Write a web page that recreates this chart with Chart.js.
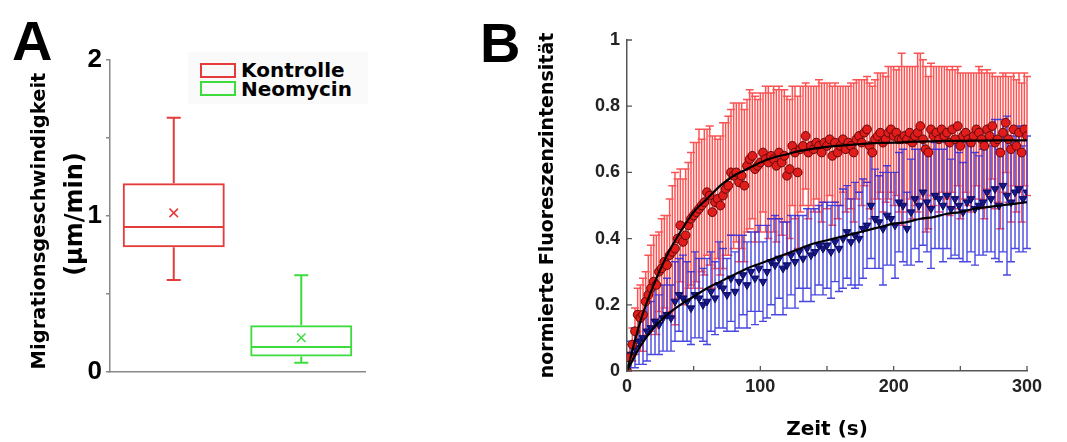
<!DOCTYPE html>
<html><head><meta charset="utf-8">
<script src="https://cdn.jsdelivr.net/npm/chart.js@4.4.1/dist/chart.umd.min.js"></script>
<style>
html,body{margin:0;padding:0;background:#fff;}
body{width:1067px;height:442px;overflow:hidden;position:relative;font-family:"Liberation Sans",Arial,sans-serif;}
#ca{position:absolute;left:0;top:0;}
#cb{position:absolute;left:530px;top:0;}
.lbl{position:absolute;font-family:"Liberation Sans",Arial,sans-serif;font-weight:bold;font-size:56px;line-height:56px;color:#000;}
.rot{position:absolute;white-space:nowrap;transform:translate(-50%,-50%) rotate(-90deg);font-family:"DejaVu Sans",sans-serif;font-weight:bold;color:#000;line-height:1;}
.legbg{position:absolute;left:188px;top:52px;width:180px;height:52px;background:#fafafa;}
.legbox{position:absolute;left:200px;width:32px;height:11px;border:2px solid;}
.legtxt{position:absolute;left:241px;font-family:"DejaVu Sans",sans-serif;font-weight:bold;font-size:20px;line-height:20px;color:#000;white-space:nowrap;}
</style></head>
<body>
<canvas id="ca" width="380" height="442"></canvas>
<canvas id="cb" width="537" height="442"></canvas>
<div class="lbl" style="left:12px;top:13px;">A</div>
<div class="lbl" style="left:480px;top:15px;">B</div>
<div class="rot" style="left:39px;top:221px;font-size:19.5px;">Migrationsgeschwindigkeit</div>
<div class="rot" style="left:74px;top:214px;font-size:24px;">(µm/min)</div>
<div class="legbg"></div>
<div class="legbox" style="top:63px;border-color:#e53b3b;"></div>
<div class="legbox" style="top:81px;border-color:#3ddc3d;"></div>
<div class="legtxt" style="top:60px;">Kontrolle</div>
<div class="legtxt" style="top:79px;">Neomycin</div>
<script>
// ---------- Panel A data (box plot) ----------
const boxCategories = ['Kontrolle', 'Neomycin'];
const boxQ1 = [0.80, 0.10];
const boxQ3 = [1.21, 0.30];
const boxMedian = [0.93, 0.16];
const boxWhiskerLow = [0.59, 0.06];
const boxWhiskerHigh = [1.63, 0.62];
const boxMean = [1.02, 0.22];
const boxColors = ['#e53b3b', '#3ddc3d'];
const yTicksA = [0, 1, 2];

// ---------- Panel B data ----------
const redStep = 2;
const redY = [
0.00,0.04,0.08,0.12,0.17,0.16,0.17,0.21,0.23,0.25,
0.27,0.26,0.30,0.31,0.33,0.32,0.35,0.36,0.37,0.40,
0.44,0.39,0.41,0.44,0.46,0.47,0.48,0.49,0.50,0.51,
0.54,0.53,0.48,0.51,0.52,0.50,0.53,0.55,0.56,0.60,
0.59,0.60,0.57,0.59,0.56,0.62,0.64,0.65,0.61,0.62,
0.63,0.66,0.64,0.63,0.65,0.64,0.62,0.66,0.63,0.65,
0.59,0.61,0.68,0.66,0.60,0.67,0.68,0.71,0.66,0.68,
0.67,0.69,0.68,0.66,0.69,0.68,0.70,0.65,0.69,0.66,
0.68,0.70,0.67,0.69,0.68,0.66,0.70,0.71,0.69,0.72,
0.73,0.68,0.66,0.70,0.71,0.72,0.69,0.70,0.72,0.73,
0.71,0.72,0.70,0.70,0.71,0.70,0.72,0.69,0.71,0.72,
0.74,0.70,0.67,0.66,0.73,0.71,0.72,0.70,0.73,0.71,
0.72,0.69,0.73,0.70,0.74,0.68,0.71,0.72,0.70,0.69,
0.71,0.73,0.72,0.70,0.68,0.73,0.71,0.74,0.69,0.70,
0.66,0.72,0.75,0.70,0.67,0.73,0.68,0.72,0.66,0.73,
0.71];
const redErr = [
0.01,0.04,0.05,0.07,0.08,0.10,0.11,0.09,0.12,0.13,
0.14,0.15,0.12,0.15,0.14,0.15,0.17,0.20,0.23,0.18,
0.17,0.19,0.20,0.19,0.20,0.22,0.21,0.24,0.20,0.22,
0.19,0.21,0.23,0.20,0.18,0.21,0.22,0.20,0.21,0.19,
0.22,0.21,0.24,0.22,0.23,0.20,0.21,0.19,0.22,0.20,
0.21,0.18,0.22,0.23,0.19,0.22,0.23,0.20,0.22,0.20,
0.24,0.21,0.18,0.20,0.23,0.19,0.18,0.16,0.20,0.18,
0.19,0.17,0.20,0.21,0.18,0.19,0.17,0.21,0.18,0.20,
0.18,0.16,0.19,0.17,0.19,0.21,0.18,0.17,0.19,0.16,
0.16,0.19,0.20,0.18,0.19,0.18,0.21,0.19,0.20,0.19,
0.21,0.19,0.22,0.26,0.21,0.22,0.20,0.23,0.21,0.24,
0.22,0.24,0.25,0.23,0.20,0.21,0.20,0.22,0.19,0.21,
0.20,0.22,0.19,0.21,0.18,0.22,0.19,0.18,0.20,0.21,
0.19,0.17,0.20,0.21,0.22,0.18,0.19,0.16,0.20,0.19,
0.23,0.18,0.15,0.19,0.22,0.17,0.20,0.18,0.21,0.17,
0.18];
const blueStep = 3;
const blueY = [
0.00,0.05,0.07,0.09,0.10,0.12,0.13,0.15,0.14,0.16,
0.17,0.16,0.21,0.23,0.22,0.21,0.19,0.23,0.22,0.20,
0.21,0.24,0.22,0.26,0.25,0.23,0.28,0.24,0.27,0.29,
0.26,0.30,0.28,0.31,0.27,0.30,0.33,0.32,0.34,0.31,
0.32,0.35,0.33,0.36,0.34,0.37,0.35,0.36,0.38,0.37,
0.38,0.36,0.39,0.37,0.40,0.42,0.39,0.41,0.40,0.43,
0.44,0.50,0.46,0.45,0.43,0.47,0.46,0.44,0.51,0.50,
0.43,0.48,0.52,0.50,0.54,0.51,0.49,0.53,0.52,0.50,
0.53,0.49,0.52,0.50,0.48,0.51,0.52,0.49,0.50,0.51,
0.54,0.52,0.55,0.50,0.56,0.53,0.51,0.54,0.55,0.52,
0.54];
const blueErr = [
0.01,0.04,0.06,0.07,0.08,0.09,0.08,0.10,0.09,0.10,
0.11,0.10,0.12,0.11,0.13,0.12,0.11,0.13,0.12,0.11,
0.13,0.12,0.11,0.13,0.12,0.11,0.13,0.12,0.14,0.12,
0.13,0.12,0.14,0.13,0.12,0.14,0.13,0.15,0.12,0.14,
0.13,0.12,0.14,0.11,0.13,0.12,0.14,0.13,0.12,0.14,
0.13,0.14,0.12,0.13,0.15,0.14,0.13,0.16,0.14,0.15,
0.13,0.16,0.15,0.14,0.17,0.15,0.14,0.16,0.15,0.17,
0.11,0.16,0.15,0.17,0.16,0.15,0.18,0.16,0.15,0.17,
0.16,0.15,0.17,0.16,0.15,0.18,0.16,0.17,0.15,0.16,
0.18,0.16,0.21,0.17,0.20,0.24,0.18,0.17,0.19,0.16,
0.17];
const fitT = [0,10,20,30,40,50,60,70,80,90,100,110,120,130,140,150,160,170,180,190,200,210,220,230,240,250,260,270,280,290,300];
const redFit = [0,0.15,0.26,0.35,0.42,0.48,0.52,0.56,0.59,0.61,0.63,0.645,0.655,0.665,0.672,0.677,0.681,0.684,0.687,0.689,0.69,0.692,0.693,0.694,0.695,0.695,0.696,0.696,0.697,0.697,0.697];
const blueFit = [0,0.075,0.13,0.17,0.20,0.225,0.25,0.27,0.29,0.31,0.325,0.34,0.355,0.37,0.385,0.395,0.405,0.415,0.425,0.435,0.445,0.45,0.46,0.465,0.475,0.48,0.49,0.495,0.50,0.505,0.51];
const xTicksB = [0, 100, 200, 300];
const yTicksB = [0, 0.2, 0.4, 0.6, 0.8, 1];

const redT = redY.map((_, i) => i * redStep);
const blueT = blueY.map((_, i) => i * blueStep);

// ---------- Panel A ----------
const boxPlugin = {
  id: 'boxParts',
  afterDatasetsDraw(chart) {
    const {ctx, scales: {x, y}} = chart;
    const meta = chart.getDatasetMeta(0);
    ctx.save();
    ctx.lineWidth = 2;
    boxCategories.forEach((c, i) => {
      const bar = meta.data[i];
      const cx = bar.x, hw = bar.width / 2 - 1, cap = 7;
      ctx.strokeStyle = boxColors[i];
      ctx.beginPath();
      const ym = y.getPixelForValue(boxMedian[i]);
      ctx.moveTo(cx - hw, ym); ctx.lineTo(cx + hw, ym);
      const yq3 = y.getPixelForValue(boxQ3[i]), yhi = y.getPixelForValue(boxWhiskerHigh[i]);
      const yq1 = y.getPixelForValue(boxQ1[i]), ylo = y.getPixelForValue(boxWhiskerLow[i]);
      ctx.moveTo(cx, yq3); ctx.lineTo(cx, yhi);
      ctx.moveTo(cx - cap, yhi); ctx.lineTo(cx + cap, yhi);
      ctx.moveTo(cx, yq1); ctx.lineTo(cx, ylo);
      ctx.moveTo(cx - cap, ylo); ctx.lineTo(cx + cap, ylo);
      ctx.stroke();
    });
    ctx.restore();
  }
};

new Chart(document.getElementById('ca'), {
  type: 'bar',
  data: {
    labels: boxCategories,
    datasets: [
      {
        type: 'bar',
        data: boxCategories.map((c, i) => [boxQ1[i], boxQ3[i]]),
        borderColor: boxColors,
        backgroundColor: 'rgba(0,0,0,0)',
        borderWidth: 2,
        borderSkipped: false,
        barPercentage: 0.8,
        categoryPercentage: 1.0,
        order: 2
      },
      {
        type: 'line',
        data: boxMean,
        showLine: false,
        pointStyle: 'crossRot',
        pointRadius: 6,
        pointBorderWidth: 1.5,
        pointBorderColor: boxColors,
        pointBackgroundColor: boxColors,
        order: 1
      }
    ]
  },
  options: {
    responsive: false,
    animation: false,
    events: [],
    layout: {padding: {top: 60, right: 15, left: 0, bottom: 0}},
    plugins: {legend: {display: false}, tooltip: {enabled: false}},
    scales: {
      x: {
        offset: true,
        ticks: {display: false},
        grid: {display: false, drawTicks: false},
        border: {display: true, color: '#888', width: 1.5},
        afterFit(s) { s.height = 70; }
      },
      y: {
        min: 0, max: 2,
        ticks: {
          stepSize: 0.5,
          padding: 4,
          color: '#000',
          font: {family: 'Liberation Sans', weight: 'bold', size: 26},
          callback: v => yTicksA.includes(v) ? String(v) : ''
        },
        grid: {drawOnChartArea: false, drawTicks: true, tickLength: 4, color: '#888', lineWidth: 1.5},
        border: {display: true, color: '#888', width: 1.5},
        afterFit(s) { s.width = 110; }
      }
    }
  },
  plugins: [boxPlugin]
});

// ---------- Panel B ----------
function drawErr(chart, ts, ys, es, color, width, cap) {
  const {ctx, scales: {x, y}, chartArea: a} = chart;
  ctx.save();
  ctx.beginPath();
  ctx.rect(a.left, a.top - 2, a.right - a.left + 6, a.bottom - a.top + 2);
  ctx.clip();
  ctx.strokeStyle = color;
  ctx.lineWidth = width;
  ctx.beginPath();
  for (let i = 0; i < ts.length; i++) {
    const px = x.getPixelForValue(ts[i]);
    const top = y.getPixelForValue(ys[i] + es[i]);
    const bot = y.getPixelForValue(ys[i] - es[i]);
    ctx.moveTo(px, top); ctx.lineTo(px, bot);
    ctx.moveTo(px - cap, top); ctx.lineTo(px + cap, top);
    ctx.moveTo(px - cap, bot); ctx.lineTo(px + cap, bot);
  }
  ctx.stroke();
  ctx.restore();
}
const errPlugin = {
  id: 'errbars',
  beforeDatasetsDraw(chart) {
    drawErr(chart, redT, redY, redErr, 'rgba(250,40,40,0.8)', 1.5, 4);
    drawErr(chart, blueT, blueY, blueErr, 'rgba(40,40,220,0.85)', 1.4, 4);
  },
  afterDraw(chart) {
    const {ctx, scales: {x, y}, chartArea: a} = chart;
    ctx.save();
    ctx.strokeStyle = '#555';
    ctx.lineWidth = 1.3;
    ctx.beginPath();
    y.ticks.forEach(t => { const py = y.getPixelForValue(t.value); ctx.moveTo(a.left, py); ctx.lineTo(a.left + 5, py); });
    x.ticks.forEach(t => { const px = x.getPixelForValue(t.value); ctx.moveTo(px, a.bottom); ctx.lineTo(px, a.bottom - 5); });
    ctx.stroke();
    ctx.restore();
  }
};

new Chart(document.getElementById('cb'), {
  type: 'scatter',
  data: {
    datasets: [
      {
        type: 'line',
        data: fitT.map((t, i) => ({x: t, y: redFit[i]})),
        borderColor: '#000', borderWidth: 2.2, pointRadius: 0,
        cubicInterpolationMode: 'monotone', fill: false, order: 1
      },
      {
        type: 'line',
        data: fitT.map((t, i) => ({x: t, y: blueFit[i]})),
        borderColor: '#000', borderWidth: 2.2, pointRadius: 0,
        cubicInterpolationMode: 'monotone', fill: false, order: 1
      },
      {
        type: 'scatter',
        data: redT.map((t, i) => ({x: t, y: redY[i]})),
        pointStyle: 'circle', pointRadius: 4.4,
        backgroundColor: '#e21b1b', borderColor: '#5c0a0a', borderWidth: 1,
        order: 2
      },
      {
        type: 'scatter',
        data: blueT.map((t, i) => ({x: t, y: blueY[i]})),
        pointStyle: 'triangle', rotation: 180, pointRadius: 4.5,
        backgroundColor: '#16168a', borderColor: '#0b0b55', borderWidth: 1,
        order: 3
      }
    ]
  },
  options: {
    responsive: false,
    animation: false,
    events: [],
    layout: {padding: {top: 40, right: 40, left: 0, bottom: 0}},
    plugins: {legend: {display: false}, tooltip: {enabled: false}},
    scales: {
      x: {
        type: 'linear', min: 0, max: 300,
        ticks: {
          stepSize: 50, padding: 5, color: '#222', maxRotation: 0,
          font: {family: 'Liberation Sans', weight: 'bold', size: 18},
          callback: v => xTicksB.includes(v) ? String(v) : ''
        },
        grid: {display: false, drawTicks: false},
        border: {display: true, color: '#555', width: 1.5},
        title: {display: true, text: 'Zeit (s)', color: '#000',
          font: {family: 'DejaVu Sans', weight: 'bold', size: 20}, padding: {top: 0, bottom: 0}},
        afterFit(s) { s.height = 71; }
      },
      y: {
        type: 'linear', min: 0, max: 1,
        ticks: {
          stepSize: 0.2, padding: 7, color: '#222',
          font: {family: 'Liberation Sans', weight: 'bold', size: 18},
          callback: v => { const m = yTicksB.find(t => Math.abs(t - v) < 1e-6); return m === undefined ? '' : String(m); }
        },
        grid: {display: false, drawTicks: false},
        border: {display: true, color: '#555', width: 1.5},
        title: {display: true, text: 'normierte Fluoreszenzintensität', color: '#000',
          font: {family: 'DejaVu Sans', weight: 'bold', size: 19}, padding: {top: 7, bottom: 0}},
        afterFit(s) { s.width = 97; }
      }
    }
  },
  plugins: [errPlugin]
});
</script>
</body></html>
